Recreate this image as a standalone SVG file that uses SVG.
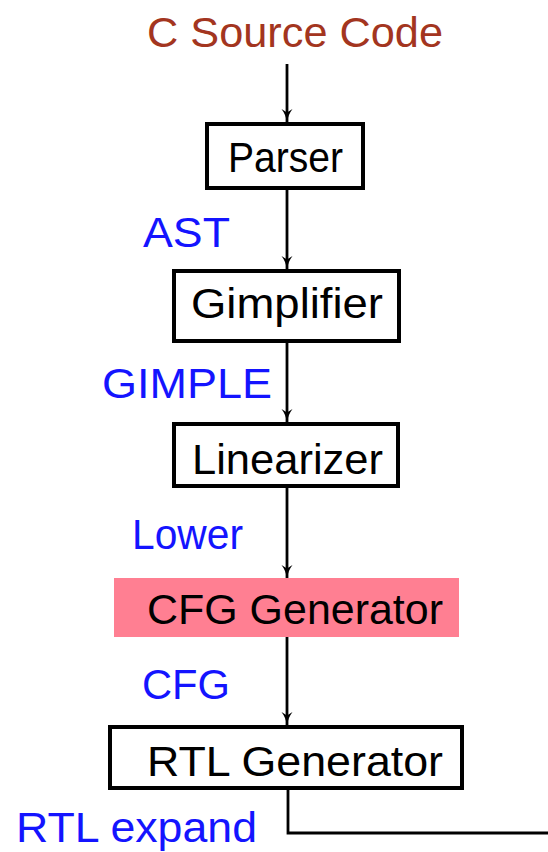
<svg xmlns="http://www.w3.org/2000/svg" width="548" height="852" viewBox="0 0 548 852">
  <style>
    text { font-family: "Liberation Sans", "DejaVu Sans", sans-serif; font-size: 43px; }
    .title { fill: #a33520; }
    .stage { fill: #000000; }
    .ir { fill: #1414ff; }
    .box { fill: #ffffff; stroke: #000000; stroke-width: 4; }
    .hl { fill: #ff7f92; }
    .edge { fill: none; stroke: #000000; stroke-width: 2.8; }
  </style>
  <defs>
    <!-- barbed arrow tip, tip point sits at the end of the line -->
    <marker id="arrow" viewBox="0 0 14 12" refX="13" refY="6" markerWidth="14" markerHeight="12" markerUnits="userSpaceOnUse" orient="auto">
      <path d="M0,0.5 C4,3.5 8,5.3 13.5,6 C8,6.7 4,8.5 0,11.5 L3.5,6 Z" fill="#000000"/>
    </marker>
  </defs>

  <rect width="548" height="852" fill="#ffffff"/>

  <g id="connectors">
    <line class="edge" x1="287" y1="64" x2="287" y2="122" marker-end="url(#arrow)"/>
    <line class="edge" x1="287" y1="189" x2="287" y2="269" marker-end="url(#arrow)"/>
    <line class="edge" x1="287" y1="342" x2="287" y2="422" marker-end="url(#arrow)"/>
    <line class="edge" x1="287" y1="487" x2="287" y2="578" marker-end="url(#arrow)"/>
    <line class="edge" x1="287" y1="637" x2="287" y2="725" marker-end="url(#arrow)"/>
    <polyline class="edge" stroke-width="3" points="288,789 288,833 548,833"/>
  </g>

  <g id="source">
    <text class="title" x="147" y="47" textLength="296" lengthAdjust="spacingAndGlyphs">C Source Code</text>
  </g>

  <g id="parser">
    <rect class="box" x="207" y="124" width="156" height="64"/>
    <text class="stage" x="228" y="172" textLength="115" lengthAdjust="spacingAndGlyphs">Parser</text>
  </g>

  <g id="label-ast">
    <text class="ir" x="143" y="247" textLength="87" lengthAdjust="spacingAndGlyphs">AST</text>
  </g>

  <g id="gimplifier">
    <rect class="box" x="174" y="271" width="225" height="70"/>
    <text class="stage" x="191" y="318" textLength="192" lengthAdjust="spacingAndGlyphs">Gimplifier</text>
  </g>

  <g id="label-gimple">
    <text class="ir" x="102" y="398" textLength="170" lengthAdjust="spacingAndGlyphs">GIMPLE</text>
  </g>

  <g id="linearizer">
    <rect class="box" x="174" y="424" width="224" height="62"/>
    <text class="stage" x="192" y="474" textLength="191" lengthAdjust="spacingAndGlyphs">Linearizer</text>
  </g>

  <g id="label-lower">
    <text class="ir" x="132" y="549" textLength="111" lengthAdjust="spacingAndGlyphs">Lower</text>
  </g>

  <g id="cfg-generator">
    <rect class="hl" x="114" y="578" width="345" height="59"/>
    <text class="stage" x="147" y="624" textLength="296" lengthAdjust="spacingAndGlyphs">CFG Generator</text>
  </g>

  <g id="label-cfg">
    <text class="ir" x="142" y="699" textLength="88" lengthAdjust="spacingAndGlyphs">CFG</text>
  </g>

  <g id="rtl-generator">
    <rect class="box" x="110" y="727" width="352" height="61"/>
    <text class="stage" x="147" y="776" textLength="296" lengthAdjust="spacingAndGlyphs">RTL Generator</text>
  </g>

  <g id="label-rtl-expand">
    <text class="ir" x="16" y="842" textLength="241" lengthAdjust="spacingAndGlyphs">RTL expand</text>
  </g>
</svg>
